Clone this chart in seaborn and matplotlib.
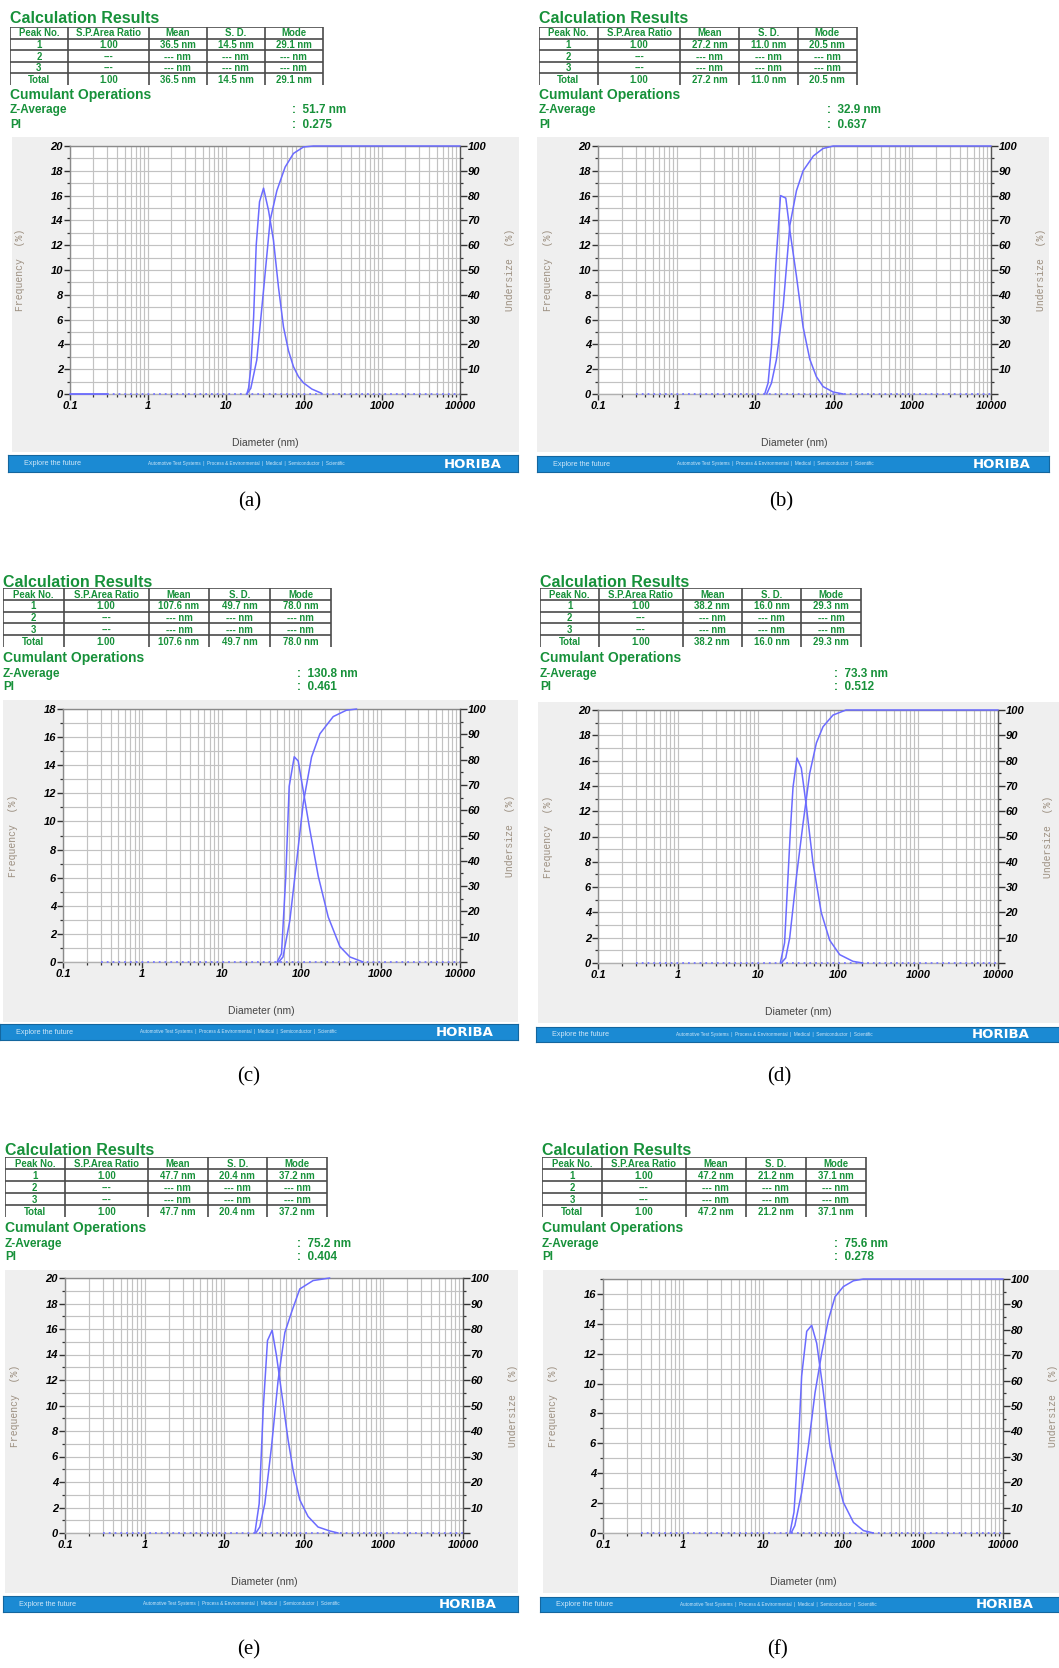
import numpy as np
import pandas as pd
import matplotlib
matplotlib.use("Agg")
import matplotlib.pyplot as plt
from matplotlib.ticker import FixedLocator, MultipleLocator, LogLocator, NullFormatter
import seaborn as sns

sns.set_style("white")
plt.rcParams['font.family'] = ['Liberation Sans', 'DejaVu Sans']

# ---------------- data ----------------
panel_labels = ["(a)", "(b)", "(c)", "(d)", "(e)", "(f)"]
table_header = ["Peak No.", "S.P.Area Ratio", "Mean", "S. D.", "Mode"]
area_ratio = ["1.00", "1.00", "1.00", "1.00", "1.00", "1.00"]
means = ["36.5", "27.2", "107.6", "38.2", "47.7", "47.2"]
sds = ["14.5", "11.0", "49.7", "16.0", "20.4", "21.2"]
modes = ["29.1", "20.5", "78.0", "29.3", "37.2", "37.1"]
z_avg = ["51.7", "32.9", "130.8", "73.3", "75.2", "75.6"]
pi_vals = ["0.275", "0.637", "0.461", "0.512", "0.404", "0.278"]
freq_ymax = [20, 20, 18, 20, 20, 17]

x_tick_values = [0.1, 1, 10, 100, 1000, 10000]
x_tick_labels = ["0.1", "1", "10", "100", "1000", "10000"]
under_ticks = [0, 10, 20, 30, 40, 50, 60, 70, 80, 90, 100]
under_tick_labels = ["", "10", "20", "30", "40", "50", "60", "70", "80", "90", "100"]

zero_line_d = [0.3, 10000]
zero_solid_a = [0.1, 0.3]

# frequency curves (diameter nm, %)
freq_d_a = [18.5, 19.5, 20.8, 22.6, 24.4, 26.9, 30.3, 35.1, 40.6, 47.1, 54.6, 63.2, 73.3, 84.9, 98.4, 126, 169]
freq_a = [0, 0.5, 2.1, 6.2, 12.0, 15.5, 16.6, 14.8, 12.4, 8.6, 5.4, 3.5, 2.2, 1.4, 0.9, 0.4, 0.05]
freq_d_b = [13.2, 14.6, 16.1, 18.3, 21.0, 24.5, 27.6, 33.5, 40.7, 49.5, 60, 73, 98, 132]
freq_b = [0, 0.9, 3.8, 10.5, 16.0, 15.8, 13.2, 9.5, 5.4, 2.8, 1.4, 0.6, 0.16, 0]
freq_d_c = [49.8, 56.5, 64, 70.6, 81.7, 91.7, 106, 128.5, 164, 219, 307, 410, 603]
freq_c = [0, 0.6, 6.1, 12.5, 14.6, 14.3, 12.2, 9.4, 6.1, 3.2, 1.1, 0.36, 0]
freq_d_d = [19, 21.5, 25.4, 27.4, 30.7, 34.8, 40.2, 48.7, 61.7, 78.7, 105, 154, 204]
freq_d = [0, 1.6, 10.5, 13.9, 16.2, 15.4, 12.4, 7.9, 4.0, 1.8, 0.66, 0.13, 0]
freq_d_e = [24.3, 27.5, 30.9, 35, 40, 45.4, 54, 63.5, 73.5, 89, 113, 151, 212, 270]
freq_e = [0, 2.3, 9.7, 15.1, 15.9, 13.9, 10.5, 7.3, 4.9, 2.6, 1.3, 0.47, 0.16, 0]
freq_d_f = [21.7, 24.4, 27.6, 30.4, 35.2, 40.6, 46.9, 55.7, 68.9, 83.4, 101, 135, 180, 240]
freq_f = [0, 1.4, 5.8, 10.5, 13.5, 13.9, 12.7, 9.8, 5.8, 3.8, 2.05, 0.71, 0.16, 0]

# undersize curves (diameter nm, %)
und_d_a = [18.5, 20.8, 24.8, 30.3, 36.8, 44.9, 57.3, 73.3, 98.4, 132, 10000]
und_a = [0, 2.3, 13.7, 41.9, 70, 82, 91.5, 97, 99.6, 100, 100]
und_d_b = [14, 16.1, 18.6, 22.7, 27.6, 33.5, 40.7, 55, 73, 98, 10000]
und_b = [0, 4.4, 13.8, 35.3, 68, 82, 90, 96, 99, 100, 100]
und_d_c = [52, 59, 72, 87, 106, 135, 172, 253, 370, 500]
und_c = [0, 2, 16.5, 39, 62.7, 81, 90.2, 97, 99.5, 100]
und_d_d = [19.5, 22.2, 24.9, 30.2, 36.5, 44.3, 53.7, 65, 86.6, 126, 10000]
und_d = [0, 2, 9.9, 34, 55, 75, 87, 93.4, 98, 100, 100]
und_d_e = [25, 28, 32.4, 39.3, 47.6, 57.8, 70, 89, 131, 212]
und_e = [0, 2.4, 11.6, 33.9, 60, 78.6, 86.5, 95.7, 99, 100]
und_d_f = [22.5, 25, 30.4, 36.9, 44.7, 54.2, 65.6, 79.5, 101, 135, 180, 10000]
und_f = [0, 2.9, 15.9, 34.2, 55.2, 70.8, 83.9, 93, 97, 99.3, 100, 100]

freq_series = [(freq_d_a, freq_a), (freq_d_b, freq_b), (freq_d_c, freq_c),
               (freq_d_d, freq_d), (freq_d_e, freq_e), (freq_d_f, freq_f)]
und_series = [(und_d_a, und_a), (und_d_b, und_b), (und_d_c, und_c),
              (und_d_d, und_d), (und_d_e, und_e), (und_d_f, und_f)]

# ---------------- layout (pixels) ----------------
W, H = 1059, 1668
fig = plt.figure(figsize=(W / 100, H / 100), dpi=100)
fig.patch.set_facecolor("white")


def fr(x0, y0, x1, y1):
    return [x0 / W, 1 - y1 / H, (x1 - x0) / W, (y1 - y0) / H]


def ftext(x, y, s, **kw):
    fig.text(x / W, 1 - y / H, s, **kw)


geoms = [
    dict(row=0, hx=10, tab=(10, 323), colon=292, gray=(12, 137, 519, 452), plot=(70, 146, 460, 394), foot=(8, 455, 518, 472), lab=(250, 502)),
    dict(row=0, hx=539, tab=(539, 857), colon=827, gray=(537, 137, 1049, 452), plot=(598, 146, 991, 394), foot=(537, 456, 1049, 472), lab=(781, 502)),
    dict(row=1, hx=3, tab=(3, 331), colon=297, gray=(3, 700, 518, 1022), plot=(63, 709, 460, 962), foot=(0, 1024, 518, 1040), lab=(249, 1077)),
    dict(row=1, hx=540, tab=(540, 861), colon=834, gray=(538, 702, 1059, 1023), plot=(598, 710, 998, 963), foot=(536, 1027, 1059, 1042), lab=(779, 1077)),
    dict(row=2, hx=5, tab=(5, 327), colon=297, gray=(5, 1270, 518, 1593), plot=(65, 1278, 463, 1533), foot=(3, 1596, 518, 1612), lab=(249, 1650)),
    dict(row=2, hx=542, tab=(542, 866), colon=834, gray=(543, 1270, 1059, 1593), plot=(603, 1279, 1003, 1533), foot=(540, 1597, 1059, 1612), lab=(777, 1650)),
]
rowy = [dict(title=23, tab=(27, 85), cum=99, z=113, pi=128),
        dict(title=587, tab=(588, 647), cum=662, z=677, pi=690),
        dict(title=1155, tab=(1157, 1217), cum=1232, z=1247, pi=1260)]

GREEN = "#17913a"
CURVE = "#6b6bff"
GRID = "#c2c2c2"
col_frac = [0.185, 0.259, 0.185, 0.185, 0.186]

for i in range(6):
    G = geoms[i]
    R = rowy[G['row']]
    hx = G['hx']

    # ---- header texts ----
    ftext(hx, R['title'], "Calculation Results", color=GREEN, fontsize=11.5,
          fontweight='bold', va='baseline', ha='left')
    ftext(hx, R['cum'], "Cumulant Operations", color=GREEN, fontsize=10,
          fontweight='bold', va='baseline', ha='left')
    ftext(hx, R['z'], "Z-Average", color=GREEN, fontsize=8.5, fontweight='bold', va='baseline')
    ftext(hx, R['pi'], "PI", color=GREEN, fontsize=8.5, fontweight='bold', va='baseline')
    ftext(G['colon'], R['z'], ":  " + z_avg[i] + " nm", color=GREEN, fontsize=8.5,
          fontweight='bold', va='baseline')
    ftext(G['colon'], R['pi'], ":  " + pi_vals[i], color=GREEN, fontsize=8.5,
          fontweight='bold', va='baseline')

    # ---- table ----
    tx0, tx1 = G['tab']
    ty0, ty1 = R['tab']
    tw, th = tx1 - tx0, ty1 - ty0
    tax = fig.add_axes(fr(tx0, ty0, tx1 + 1, ty1))
    tax.set_xlim(0, tw + 1)
    tax.set_ylim(5, 0)
    tax.axis('off')
    bounds = np.concatenate([[0], np.cumsum(col_frac)]) * tw
    tax.hlines([0, 1, 2, 3, 4], 0, tw, color="#4a4a4a", lw=1.2)
    tax.vlines(bounds, 0, 5, color="#4a4a4a", lw=1.2)
    rows = [table_header,
            ["1", area_ratio[i], means[i] + " nm", sds[i] + " nm", modes[i] + " nm"],
            ["2", "---", "--- nm", "--- nm", "--- nm"],
            ["3", "---", "--- nm", "--- nm", "--- nm"],
            ["Total", area_ratio[i], means[i] + " nm", sds[i] + " nm", modes[i] + " nm"]]
    for r, vals in enumerate(rows):
        for c, v in enumerate(vals):
            tax.text((bounds[c] + bounds[c + 1]) / 2, r + 0.56, v, ha='center', va='center',
                     color=GREEN, fontsize=6.9, fontweight='bold')

    # ---- gray panel ----
    bg = fig.add_axes(fr(*G['gray']))
    bg.set_facecolor("#efefef")
    bg.set_xticks([]); bg.set_yticks([])
    for s in bg.spines.values():
        s.set_visible(False)

    # ---- footer ----
    ft = fig.add_axes(fr(*G['foot']))
    ft.set_facecolor("#1b8ad3")
    ft.set_xticks([]); ft.set_yticks([])
    for s in ft.spines.values():
        s.set_color("#14669e"); s.set_linewidth(0.8)
    fx0 = G['foot'][0]
    fw = G['foot'][2] - fx0
    ft.text(16 / fw, 0.5, "Explore the future", transform=ft.transAxes, color="#cfe7f8",
            fontsize=5.2, va='center', ha='left')
    ft.text(140 / fw, 0.5, "Automotive Test Systems  |  Process & Environmental  |  Medical  |  Semiconductor  |  Scientific",
            transform=ft.transAxes, color="#cfe7f8", fontsize=3.3, va='center', ha='left')
    ft.text(436 / fw, 0.47, "HORIBA", transform=ft.transAxes, color="white", fontsize=9.5,
            fontweight='bold', family=['DejaVu Sans'], va='center', ha='left', clip_on=False)

    # ---- plot ----
    px0, py0, px1, py1 = G['plot']
    ax = fig.add_axes(fr(*G['plot']))
    ax.set_facecolor("white")
    ax.set_xscale('log')
    ax2 = ax.twinx()

    zdf = pd.DataFrame({"d": zero_line_d, "v": [0, 0]})
    sns.lineplot(data=zdf, x="d", y="v", ax=ax, color="#7a7aff", lw=1.3,
                 linestyle=(0, (1, 2.2)), estimator=None, sort=False)
    if i == 0:
        sdf = pd.DataFrame({"d": zero_solid_a, "v": [0, 0]})
        sns.lineplot(data=sdf, x="d", y="v", ax=ax, color=CURVE, lw=1.3,
                     estimator=None, sort=False)

    fd, fv = freq_series[i]
    fdf = pd.DataFrame({"Diameter": fd, "Frequency": fv})
    sns.lineplot(data=fdf, x="Diameter", y="Frequency", ax=ax, color=CURVE, lw=1.1,
                 estimator=None, sort=False)
    ud, uv = und_series[i]
    udf = pd.DataFrame({"Diameter": ud, "Undersize": uv})
    sns.lineplot(data=udf, x="Diameter", y="Undersize", ax=ax2, color=CURVE, lw=1.1,
                 estimator=None, sort=False)
    for ln in ax.lines + ax2.lines:
        ln.set_clip_on(False)
        ln.set_zorder(4)

    ax.set_xlim(0.1, 10000)
    ax.set_ylim(0, freq_ymax[i])
    ax2.set_ylim(0, 100)
    ax.set_xlabel(""); ax.set_ylabel(""); ax2.set_ylabel(""); ax2.set_xlabel("")

    ax.xaxis.set_major_locator(FixedLocator(x_tick_values))
    ax.set_xticklabels(x_tick_labels)
    ax.xaxis.set_minor_locator(LogLocator(base=10, subs=np.arange(2, 10), numticks=30))
    ax.xaxis.set_minor_formatter(NullFormatter())
    ax.yaxis.set_major_locator(MultipleLocator(2))
    ax.yaxis.set_minor_locator(MultipleLocator(1))
    ax2.yaxis.set_major_locator(FixedLocator(under_ticks))
    ax2.set_yticklabels(under_tick_labels)
    ax2.yaxis.set_minor_locator(MultipleLocator(5))

    ax.grid(True, which='both', axis='both', color=GRID, lw=0.85)
    ax.set_axisbelow(True)
    ax2.grid(False)

    ax.tick_params(axis='both', which='major', direction='out', length=4, width=1,
                   color='#333333', pad=1, labelsize=8)
    ax.tick_params(axis='both', which='minor', direction='out', length=2.5, width=0.9,
                   color='#333333')
    ax.tick_params(axis='y', which='both', left=True, right=False)
    ax.tick_params(axis='x', which='both', bottom=True, top=False)
    ax2.tick_params(axis='y', which='major', direction='out', length=5, width=1,
                    color='#333333', pad=0.5, labelsize=8)
    ax2.tick_params(axis='y', which='minor', direction='out', length=2.5, width=0.9,
                    color='#333333')
    for lab in ax.get_xticklabels() + ax.get_yticklabels() + ax2.get_yticklabels():
        lab.set_fontweight('bold'); lab.set_fontstyle('italic'); lab.set_color('black')

    for name, s in ax.spines.items():
        s.set_linewidth(1)
        s.set_color('#8a8a8a')
    ax.spines['bottom'].set_color('#b0b0b0')
    ax.spines['right'].set_visible(False)
    for name in ('left', 'top', 'bottom'):
        ax2.spines[name].set_visible(False)
    ax2.spines['right'].set_color('#555555')
    ax2.spines['right'].set_linewidth(1)

    cy = (py0 + py1) / 2
    ftext(px0 - 50, cy, "Frequency  (%)", rotation=90, ha='center', va='center',
          color='#9c8f80', fontsize=7, family=['Liberation Mono', 'DejaVu Sans Mono'])
    ftext(px1 + 50, cy, "Undersize  (%)", rotation=90, ha='center', va='center',
          color='#9c8f80', fontsize=7, family=['Liberation Mono', 'DejaVu Sans Mono'])
    ftext((px0 + px1) / 2, py1 + 49, "Diameter (nm)", ha='center', va='center',
          color='#444444', fontsize=7.5)

    # ---- panel label ----
    ftext(G['lab'][0], G['lab'][1], panel_labels[i], ha='center', va='center',
          fontsize=15, color='black', family=['Liberation Serif', 'DejaVu Serif'])

fig.savefig("out.png", dpi=100)
